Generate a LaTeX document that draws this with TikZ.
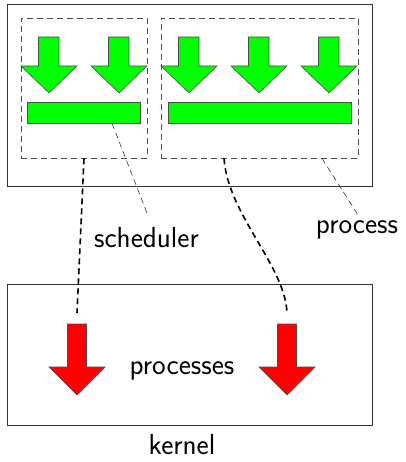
\documentclass[tikz,border=0pt]{standalone}
\usepackage{fontspec}
\setmainfont{Latin Modern Sans}
\begin{document}
\begin{tikzpicture}[x=1pt,y=-1pt,
  outerbox/.style={draw=black!80,line width=0.9pt,inner sep=0,fill=none},
  dashbox/.style={draw=black!70,dashed,dash pattern=on 6pt off 4pt,line width=0.8pt,inner sep=0},
  bar/.style={draw=black!70,fill=green,line width=0.6pt,inner sep=0},
  link/.style={black,line width=1.6pt,dash pattern=on 6pt off 4pt},
  pointer/.style={black!80,line width=0.6pt,dash pattern=on 6pt off 4pt},
  lbl/.style={font=\fontsize{29}{32}\selectfont,inner sep=0},
  garrow/.pic={\filldraw[fill=green,draw=black!70,line width=0.6pt]
    (-10.5,0) -- (10,0) -- (10,29) -- (28,29) -- (0,56) -- (-28,29) -- (-10.5,29) -- cycle;},
  rarrow/.pic={\filldraw[fill=red,draw=black!70,line width=0.6pt]
    (-9.5,0) -- (9.5,0) -- (9.5,43) -- (28,43) -- (0,71) -- (-28,43) -- (-9.5,43) -- cycle;}
]
\useasboundingbox (0,0) rectangle (405,462);
% boxes
\node[outerbox,minimum width=365pt,minimum height=182pt] (user) at (189.5,95) {};
\node[outerbox,minimum width=365pt,minimum height=141pt] (kern) at (189.5,354.5) {};
\node[dashbox,minimum width=126pt,minimum height=140pt] (lbox) at (84,88) {};
\node[dashbox,minimum width=197pt,minimum height=140pt] (rbox) at (259.5,88) {};
% green arrows
\foreach \x in {49,119,189,259,329} \pic at (\x,37) {garrow};
% bars
\node[bar,minimum width=113pt,minimum height=21pt] (lbar) at (83.5,112.5) {};
\node[bar,minimum width=183pt,minimum height=21pt] (rbar) at (259.5,112.5) {};
% red arrows
\pic at (77,324) {rarrow};
\pic at (287,324) {rarrow};
% labels
\node[lbl] (sched) at (146.5,238) {scheduler};
\node[lbl] (proc) at (357,230) {process};
\node[lbl] (procs) at (182,371) {processes};
\node[lbl] (kl) at (182,445) {kernel};
% connector ends
\coordinate (l1) at (77,313);
\coordinate (r1) at (287,313);
\coordinate (s1) at (147,213);
\coordinate (p1) at (358,215);
\draw[link] (lbox.south) -- (l1);
\draw[link] ([xshift=-35.5pt]rbox.south) .. controls (228,215) and (285,265) .. (r1);
\draw[pointer] ([xshift=28.5pt]lbar.south) -- (s1);
\draw[pointer] ([xshift=62.5pt]rbox.south) -- (p1);
\end{tikzpicture}
\end{document}
